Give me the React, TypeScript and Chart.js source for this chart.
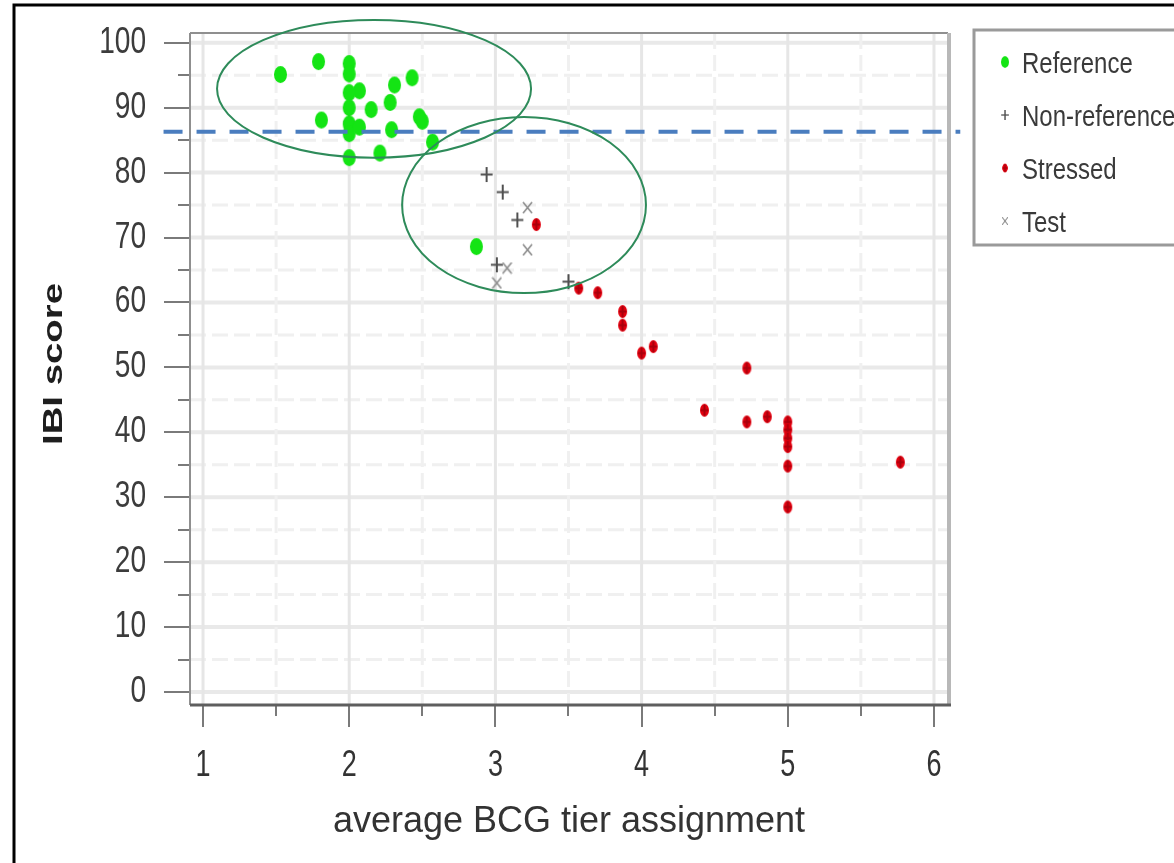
import React, { useEffect, useRef } from 'react';
import { Chart, registerables } from 'chart.js';

Chart.register(...registerables);

// ---------- data ----------
const REF_X = [1.53, 1.79, 2.0, 2.0, 2.07, 2.0, 2.0, 1.81, 2.15, 2.31, 2.28, 2.43, 2.48, 2.5, 2.0, 2.0, 2.07, 2.29, 2.57, 2.21, 2.0, 2.87];
const REF_Y = [95.1, 97.1, 96.8, 95.2, 92.6, 92.3, 90.0, 88.1, 89.7, 93.5, 90.8, 94.6, 88.6, 87.9, 87.5, 86.0, 87.0, 86.6, 84.7, 83.0, 82.3, 68.6];

const NONREF_X = [2.94, 3.05, 3.15, 3.01, 3.5, 2.0];
const NONREF_Y = [79.7, 77.0, 72.7, 65.8, 63.2, 87.8];

const STRESS_X = [3.28, 3.57, 3.7, 3.87, 3.87, 4.0, 4.08, 4.43, 4.72, 4.72, 4.86, 5.0, 5.0, 5.0, 5.0, 5.0, 5.0, 5.77];
const STRESS_Y = [72.0, 62.2, 61.5, 58.6, 56.5, 52.2, 53.2, 43.4, 49.9, 41.6, 42.4, 41.6, 40.4, 39.1, 37.8, 34.8, 28.5, 35.4];

const TEST_X = [3.22, 3.22, 3.08, 3.01];
const TEST_Y = [74.6, 68.1, 65.3, 63.0];

const THRESHOLD_X = [0.73, 6.18];
const THRESHOLD_Y = [86.3, 86.3];

const SERIES_LABELS = ['Reference', 'Non-reference', 'Stressed', 'Test'];

const Y_TICKS = [0, 5, 10, 15, 20, 25, 30, 35, 40, 45, 50, 55, 60, 65, 70, 75, 80, 85, 90, 95, 100];
const X_TICKS = [1, 1.5, 2, 2.5, 3, 3.5, 4, 4.5, 5, 5.5, 6];
const Y_MIN = -2.0, Y_MAX = 101.5;
const X_MIN = 0.911, X_MAX = 6.096;

// annotation ellipses (data units)
const ELLIPSE_CX = [2.17, 3.196];
const ELLIPSE_CY = [92.9, 75.0];
const ELLIPSE_RX = [1.074, 0.834];
const ELLIPSE_RY = [10.6, 13.56];

const X_TITLE = 'average BCG tier assignment';
const Y_TITLE = 'IBI score';

const SANS = '"Liberation Sans", Arial, sans-serif';

// ---------- marker images ----------
function makeDot(w: number, h: number, fill: string, inner?: string) {
  const c = document.createElement('canvas');
  c.width = w; c.height = h;
  const g = c.getContext('2d')!;
  g.fillStyle = fill;
  g.beginPath();
  g.ellipse(w / 2, h / 2, w / 2 - 1, h / 2 - 1, 0, 0, Math.PI * 2);
  g.fill();
  if (inner) {
    g.strokeStyle = inner;
    g.lineWidth = 2;
    g.beginPath();
    g.moveTo(w / 2, 2); g.lineTo(w / 2, h - 2);
    g.moveTo(2, h / 2); g.lineTo(w - 2, h / 2);
    g.stroke();
  }
  return c;
}
function makePlus(w: number, h: number, color: string, lw: number) {
  const c = document.createElement('canvas');
  c.width = w; c.height = h;
  const g = c.getContext('2d')!;
  g.strokeStyle = color; g.lineWidth = lw;
  g.beginPath();
  g.moveTo(1, h / 2); g.lineTo(w - 1, h / 2);
  g.moveTo(w / 2, 1); g.lineTo(w / 2, h - 1);
  g.stroke();
  return c;
}
function makeCross(w: number, h: number, color: string, lw: number) {
  const c = document.createElement('canvas');
  c.width = w; c.height = h;
  const g = c.getContext('2d')!;
  g.strokeStyle = color; g.lineWidth = lw;
  g.beginPath();
  g.moveTo(1, 1); g.lineTo(w - 1, h - 1);
  g.moveTo(w - 1, 1); g.lineTo(1, h - 1);
  g.stroke();
  return c;
}

// condensed text helper
function narrowText(ctx: CanvasRenderingContext2D, text: string, x: number, y: number, sx: number, align: CanvasTextAlign, font: string, color: string) {
  ctx.save();
  ctx.translate(x, y);
  ctx.scale(sx, 1);
  ctx.font = font;
  ctx.fillStyle = color;
  ctx.textAlign = align;
  ctx.textBaseline = 'alphabetic';
  ctx.fillText(text, 0, 0);
  ctx.restore();
}

const pts = (xs: number[], ys: number[]) => xs.map((x, i) => ({ x, y: ys[i] }));

export default function App() {
  const ref = useRef<HTMLCanvasElement>(null);

  useEffect(() => {
    const canvas = ref.current!;
    const green = makeDot(15, 19, '#14e414');
    const red = makeDot(11, 15, '#e2000f', '#a8000c');
    const plus = makePlus(14, 17, '#505050', 2);
    const cross = makeCross(11, 13, '#8c8c8c', 1.6);

    const decor = {
      id: 'decor',
      beforeDatasetsDraw(chart: any) {
        const { ctx, chartArea: a } = chart;
        const xs = chart.scales.x, ys = chart.scales.y;
        ctx.save();
        ctx.fillStyle = '#ffffff';
        ctx.fillRect(a.left, a.top, a.right - a.left, a.bottom - a.top);
        // grid
        Y_TICKS.forEach((v) => {
          const py = ys.getPixelForValue(v);
          const major = v % 10 === 0;
          ctx.strokeStyle = major ? '#e9e9e9' : '#f0f0f0';
          ctx.lineWidth = major ? 4 : 3;
          ctx.setLineDash(major ? [] : [16, 6]);
          ctx.beginPath(); ctx.moveTo(a.left, py); ctx.lineTo(a.right, py); ctx.stroke();
        });
        X_TICKS.forEach((v) => {
          const px = xs.getPixelForValue(v);
          const major = Number.isInteger(v);
          ctx.strokeStyle = major ? '#e6e6e6' : '#f0f0f0';
          ctx.lineWidth = 3;
          ctx.setLineDash(major ? [] : [16, 6]);
          ctx.beginPath(); ctx.moveTo(px, a.top); ctx.lineTo(px, a.bottom); ctx.stroke();
        });
        ctx.setLineDash([]);
        // tick marks
        ctx.strokeStyle = '#7a7a7a';
        ctx.lineWidth = 2;
        Y_TICKS.forEach((v) => {
          const py = Math.round(ys.getPixelForValue(v));
          const len = v % 10 === 0 ? 26 : 12;
          ctx.beginPath(); ctx.moveTo(a.left - len, py); ctx.lineTo(a.left, py); ctx.stroke();
        });
        X_TICKS.forEach((v) => {
          const px = Math.round(xs.getPixelForValue(v));
          const len = Number.isInteger(v) ? 22 : 11;
          ctx.beginPath(); ctx.moveTo(px, a.bottom); ctx.lineTo(px, a.bottom + len); ctx.stroke();
        });
        // frame
        ctx.strokeStyle = '#8f8f8f';
        ctx.lineWidth = 2;
        ctx.beginPath(); ctx.moveTo(a.left, a.top); ctx.lineTo(a.right, a.top); ctx.stroke();
        ctx.beginPath(); ctx.moveTo(a.left, a.top); ctx.lineTo(a.left, a.bottom); ctx.stroke();
        ctx.strokeStyle = '#b8b8b8';
        ctx.lineWidth = 4;
        ctx.beginPath(); ctx.moveTo(a.right + 1, a.top); ctx.lineTo(a.right + 1, a.bottom + 1); ctx.stroke();
        ctx.strokeStyle = '#5e5e5e';
        ctx.lineWidth = 3;
        ctx.beginPath(); ctx.moveTo(a.left, a.bottom); ctx.lineTo(a.right + 3, a.bottom); ctx.stroke();

        // tick labels (condensed), positioned by the scales
        ys.ticks.forEach((t: any) => {
          if (t.value % 10 !== 0) return;
          const py = ys.getPixelForValue(t.value);
          narrowText(ctx, String(t.value), a.left - 44, py + 10, 0.78, 'right', `36px ${SANS}`, '#3c3c3c');
        });
        xs.ticks.forEach((t: any) => {
          if (!Number.isInteger(t.value)) return;
          const px = xs.getPixelForValue(t.value);
          narrowText(ctx, String(t.value), px, a.bottom + 71, 0.75, 'center', `36px ${SANS}`, '#333333');
        });
        ctx.restore();
      },
      afterDatasetsDraw(chart: any) {
        const { ctx } = chart;
        const xs = chart.scales.x, ys = chart.scales.y;
        ctx.save();
        ctx.strokeStyle = '#2e8b5a';
        ctx.lineWidth = 2;
        ELLIPSE_CX.forEach((cx, i) => {
          const px = xs.getPixelForValue(cx);
          const py = ys.getPixelForValue(ELLIPSE_CY[i]);
          const rx = Math.abs(xs.getPixelForValue(cx + ELLIPSE_RX[i]) - px);
          const ry = Math.abs(ys.getPixelForValue(ELLIPSE_CY[i] + ELLIPSE_RY[i]) - py);
          ctx.beginPath();
          ctx.ellipse(px, py, rx, ry, 0, 0, Math.PI * 2);
          ctx.stroke();
        });
        ctx.restore();
      },
      afterDraw(chart: any) {
        const { ctx } = chart;
        ctx.save();
        // y title
        ctx.translate(62, 364);
        ctx.rotate(-Math.PI / 2);
        ctx.scale(1.42, 1);
        ctx.font = `bold 27px ${SANS}`;
        ctx.fillStyle = '#1e1e1e';
        ctx.textAlign = 'center';
        ctx.textBaseline = 'alphabetic';
        ctx.fillText(Y_TITLE, 0, 0);
        ctx.restore();

        // legend
        ctx.save();
        ctx.strokeStyle = '#9a9a9a';
        ctx.lineWidth = 3;
        ctx.strokeRect(974, 30, 230, 215);
        const ds = chart.data.datasets.filter((d: any) => !d.showLine);
        ds.forEach((d: any, i: number) => {
          const cy = 62 + i * 53;
          const img = d.pointStyle as HTMLCanvasElement;
          const w = img.width * 0.62, h = img.height * 0.68;
          ctx.drawImage(img, 1005 - w / 2, cy - h / 2, w, h);
          narrowText(ctx, d.label, 1022, cy + 11, 0.8, 'left', `30px ${SANS}`, '#3a3a3a');
        });
        ctx.restore();

        // outer black border
        ctx.save();
        ctx.strokeStyle = '#000000';
        ctx.lineWidth = 3;
        ctx.beginPath();
        ctx.moveTo(14, 870); ctx.lineTo(14, 5); ctx.lineTo(1180, 5);
        ctx.stroke();
        ctx.restore();
      },
    };

    const chart = new Chart(canvas, {
      type: 'scatter',
      data: {
        datasets: [
          { label: SERIES_LABELS[0], data: pts(REF_X, REF_Y), pointStyle: green as any, pointRadius: 7, clip: false as any, order: 2 },
          { label: SERIES_LABELS[1], data: pts(NONREF_X, NONREF_Y), pointStyle: plus as any, pointRadius: 7, clip: false as any, order: 3 },
          { label: SERIES_LABELS[2], data: pts(STRESS_X, STRESS_Y), pointStyle: red as any, pointRadius: 6, clip: false as any, order: 1 },
          { label: SERIES_LABELS[3], data: pts(TEST_X, TEST_Y), pointStyle: cross as any, pointRadius: 6, clip: false as any, order: 0 },
          {
            label: 'threshold', data: pts(THRESHOLD_X, THRESHOLD_Y), showLine: true, pointRadius: 0,
            borderColor: '#4a7dbf', borderWidth: 4, borderDash: [19, 14], clip: false as any, order: -1,
          } as any,
        ],
      },
      options: {
        responsive: false,
        animation: false,
        events: [],
        layout: { padding: { left: 0, top: 33, right: 226, bottom: 0 } },
        plugins: { legend: { display: false }, tooltip: { enabled: false } },
        scales: {
          x: {
            type: 'linear', min: X_MIN, max: X_MAX,
            afterBuildTicks: (s: any) => { s.ticks = X_TICKS.map((v) => ({ value: v })); },
            afterFit: (s: any) => { s.height = 158; },
            grid: { display: false },
            border: { display: false },
            ticks: { display: false },
            title: { display: true, text: X_TITLE, color: '#333333', font: { family: SANS, size: 36 }, padding: { top: 0, bottom: 19 } },
          },
          y: {
            type: 'linear', min: Y_MIN, max: Y_MAX,
            afterBuildTicks: (s: any) => { s.ticks = Y_TICKS.map((v) => ({ value: v })); },
            afterFit: (s: any) => { s.width = 190; },
            grid: { display: false },
            border: { display: false },
            ticks: { display: false },
          },
        },
      },
      plugins: [decor],
    });
    return () => chart.destroy();
  }, []);

  return (
    <div style={{ position: 'fixed', left: 0, top: 0, width: 1174, height: 863, background: '#ffffff' }}>
      <canvas ref={ref} width={1174} height={863} style={{ width: 1174, height: 863, display: 'block' }} />
    </div>
  );
}
